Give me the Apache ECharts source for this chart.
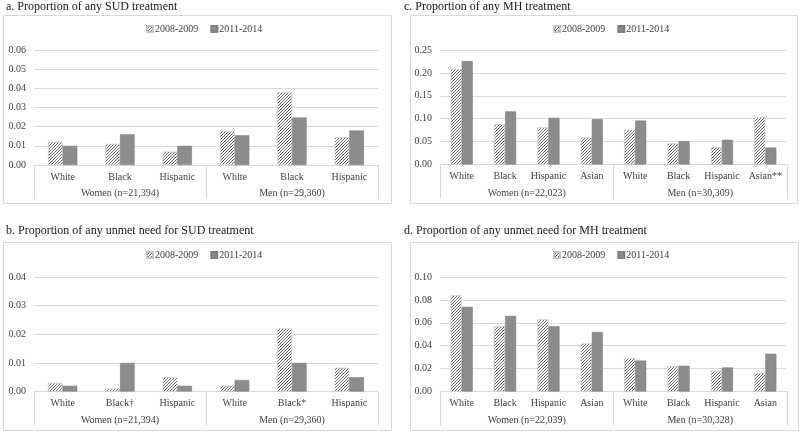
<!DOCTYPE html>
<html>
<head>
<meta charset="utf-8">
<script src="https://cdn.jsdelivr.net/npm/echarts@6/dist/echarts.min.js"></script>
<style>
html,body{margin:0;padding:0;background:#fff;}
#c{width:800px;height:433px;}
</style>
</head>
<body>
<div id="c"></div>
<script>
// ---- data ----
const seriesNames = ['2008-2009', '2011-2014'];

const titleA = 'a. Proportion of any SUD treatment';
const catsA = ['White', 'Black', 'Hispanic', 'White', 'Black', 'Hispanic'];
const groupsA = ['Women (n=21,394)', 'Men (n=29,360)'];
const a2008 = [0.012, 0.011, 0.007, 0.0175, 0.038, 0.0145];
const a2011 = [0.010, 0.016, 0.010, 0.0155, 0.0248, 0.018];
const ticksA = {max: 0.06, interval: 0.01};

const titleB = 'b. Proportion of any unmet need for SUD treatment';
const catsB = ['White', 'Black\u2020', 'Hispanic', 'White', 'Black*', 'Hispanic'];
const groupsB = ['Women (n=21,394)', 'Men (n=29,360)'];
const b2008 = [0.003, 0.001, 0.005, 0.002, 0.022, 0.0083];
const b2011 = [0.002, 0.010, 0.002, 0.004, 0.010, 0.005];
const ticksB = {max: 0.04, interval: 0.01};

const titleC = 'c. Proportion of any MH treatment';
const catsC = ['White', 'Black', 'Hispanic', 'Asian', 'White', 'Black', 'Hispanic', 'Asian**'];
const groupsC = ['Women (n=22,023)', 'Men (n=30,309)'];
const c2008 = [0.208, 0.088, 0.081, 0.059, 0.076, 0.046, 0.038, 0.103];
const c2011 = [0.226, 0.116, 0.102, 0.099, 0.096, 0.051, 0.054, 0.037];
const ticksC = {max: 0.25, interval: 0.05};

const titleD = 'd. Proportion of any unmet need for MH treatment';
const catsD = ['White', 'Black', 'Hispanic', 'Asian', 'White', 'Black', 'Hispanic', 'Asian'];
const groupsD = ['Women (n=22,039)', 'Men (n=30,328)'];
const d2008 = [0.084, 0.057, 0.063, 0.042, 0.029, 0.022, 0.018, 0.016];
const d2011 = [0.074, 0.066, 0.057, 0.052, 0.027, 0.0225, 0.021, 0.033];
const ticksD = {max: 0.10, interval: 0.02};

// ---- styling helpers ----
function hatchCanvas() {
  const n = 3;
  const cv = document.createElement('canvas');
  cv.width = n; cv.height = n;
  const ctx = cv.getContext('2d');
  ctx.fillStyle = '#ffffff';
  ctx.fillRect(0, 0, n, n);
  ctx.strokeStyle = '#6a6a6a';
  ctx.lineWidth = 1;
  ctx.beginPath();
  ctx.moveTo(-1, n + 1); ctx.lineTo(n + 1, -1);
  ctx.moveTo(-1, 1); ctx.lineTo(1, -1);
  ctx.moveTo(n - 1, n + 1); ctx.lineTo(n + 1, n - 1);
  ctx.stroke();
  return cv;
}
const hatch = {image: hatchCanvas(), repeat: 'repeat'};
const solidColor = '#8c8c8c';
const FONT = '"Liberation Serif", "Times New Roman", serif';
const gridColor = '#d9d9d9';
const textColor = '#404040';

const panels = [
  {title: titleA, cats: catsA, groups: groupsA, s1: a2008, s2: a2011, ticks: ticksA,
   box: [3, 15, 388, 188], grid: {left: 34, top: 50, width: 344, height: 115}, tx: 6, ty: 1, legendTop: 24, legendX: 198},
  {title: titleB, cats: catsB, groups: groupsB, s1: b2008, s2: b2011, ticks: ticksB,
   box: [3, 242, 388, 188], grid: {left: 34, top: 277, width: 344, height: 114.5}, tx: 6, ty: 225, legendTop: 250, legendX: 198},
  {title: titleC, cats: catsC, groups: groupsC, s1: c2008, s2: c2011, ticks: ticksC,
   box: [410, 15, 387, 188], grid: {left: 440, top: 50, width: 347, height: 114.5}, tx: 404, ty: 1, legendTop: 24, legendX: 605},
  {title: titleD, cats: catsD, groups: groupsD, s1: d2008, s2: d2011, ticks: ticksD,
   box: [410, 242, 388, 188], grid: {left: 440, top: 277, width: 347, height: 114.5}, tx: 404, ty: 225, legendTop: 250, legendX: 605}
];

const option = {
  backgroundColor: '#ffffff',
  animation: false,
  textStyle: {fontFamily: FONT},
  title: [], legend: [], grid: [], xAxis: [], yAxis: [], series: [], graphic: []
};

panels.forEach((p, i) => {
  option.graphic.push({
    type: 'rect', z: -10, silent: true,
    shape: {x: p.box[0] + 0.5, y: p.box[1] + 0.5, width: p.box[2], height: p.box[3]},
    style: {fill: '#ffffff', stroke: gridColor, lineWidth: 1}
  });
  option.title.push({
    text: p.title, left: p.tx, top: p.ty, padding: 0,
    textStyle: {fontFamily: FONT, fontSize: 12, fontWeight: 'normal', color: '#1a1a1a'}
  });
  option.legend.push({
    data: seriesNames, top: p.legendTop, left: p.legendX - 52, padding: 0,
    itemWidth: 6, itemHeight: 6, itemGap: 12, icon: 'rect',
    textStyle: {fontFamily: FONT, fontSize: 10, color: textColor, padding: [0, 0, 0, -3]}
  });
  option.grid.push(Object.assign({containLabel: false}, p.grid));
  option.grid.push(Object.assign({containLabel: false}, p.grid));
  const gMain = i * 2, gGroup = i * 2 + 1;
  option.xAxis.push({
    type: 'category', gridIndex: gMain, data: p.cats, position: 'bottom',
    axisLine: {lineStyle: {color: gridColor}},
    axisTick: {show: false},
    axisLabel: {fontFamily: FONT, fontSize: 10, color: textColor, margin: 7, interval: 0}
  });
  option.xAxis.push({
    type: 'category', gridIndex: gGroup, data: p.groups, position: 'bottom',
    axisLine: {show: false},
    axisTick: {show: true, length: 34, lineStyle: {color: gridColor}},
    axisLabel: {fontFamily: FONT, fontSize: 10, color: textColor, margin: 23.5, interval: 0}
  });
  option.yAxis.push({
    type: 'value', gridIndex: gMain, min: 0, max: p.ticks.max, interval: p.ticks.interval,
    axisLine: {show: false}, axisTick: {show: false},
    splitLine: {lineStyle: {color: gridColor}},
    axisLabel: {fontFamily: FONT, fontSize: 10, color: textColor, margin: 8,
      formatter: v => v.toFixed(2)}
  });
  option.yAxis.push({
    type: 'value', gridIndex: gGroup, show: false, min: 0, max: 1,
    splitLine: {show: false}
  });
  option.series.push({
    name: seriesNames[0], type: 'bar', xAxisIndex: gMain, yAxisIndex: gMain,
    data: p.s1, barGap: '0%', barCategoryGap: '49%',
    itemStyle: {color: hatch, borderColor: '#c4c4c4', borderWidth: 0.6}
  });
  option.series.push({
    name: seriesNames[1], type: 'bar', xAxisIndex: gMain, yAxisIndex: gMain,
    data: p.s2, barGap: '0%', barCategoryGap: '49%',
    itemStyle: {color: solidColor, borderColor: '#7f7f7f', borderWidth: 0.6}
  });
});

const chart = echarts.init(document.getElementById('c'), null, {renderer: 'canvas'});
chart.setOption(option);
</script>
</body>
</html>
